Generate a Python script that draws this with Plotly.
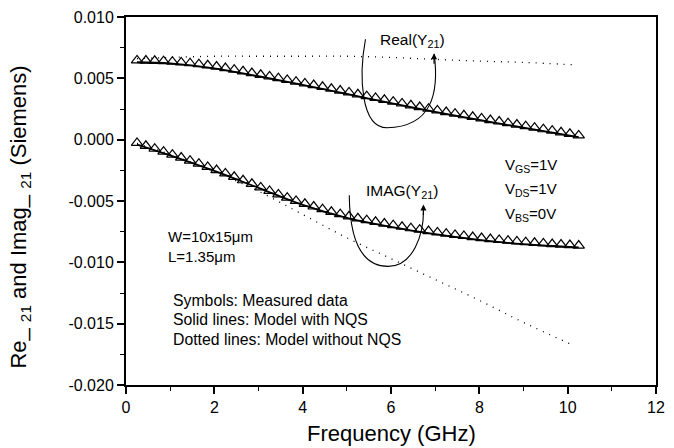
import plotly.graph_objects as go

# ---------------- data ----------------
freq_meas = [0.25, 0.45, 0.65, 0.85, 1.05, 1.25, 1.45, 1.65, 1.85, 2.05,
             2.25, 2.45, 2.65, 2.85, 3.05, 3.25, 3.45, 3.65, 3.85, 4.05,
             4.25, 4.45, 4.65, 4.85, 5.05, 5.25, 5.45, 5.65, 5.85, 6.05,
             6.25, 6.45, 6.65, 6.85, 7.05, 7.25, 7.45, 7.65, 7.85, 8.05,
             8.25, 8.45, 8.65, 8.85, 9.05, 9.25, 9.45, 9.65, 9.85, 10.05,
             10.25]

real_meas = [0.00646, 0.00645, 0.00643, 0.00640, 0.00636, 0.00630, 0.00623, 0.00615, 0.00606, 0.00596,
             0.00584, 0.00571, 0.00557, 0.00543, 0.00529, 0.00515, 0.00501, 0.00487, 0.00473, 0.00459,
             0.00445, 0.00431, 0.00415, 0.00400, 0.00385, 0.00370, 0.00355, 0.00340, 0.00325, 0.00310,
             0.00295, 0.00280, 0.00266, 0.00252, 0.00238, 0.00225, 0.00212, 0.00199, 0.00186, 0.00173,
             0.00160, 0.00148, 0.00135, 0.00123, 0.00110, 0.00098, 0.00085, 0.00073, 0.00060, 0.00048,
             0.00035]

imag_meas = [-0.00026, -0.00050, -0.00074, -0.00098, -0.00122, -0.00146, -0.00171, -0.00196, -0.00222, -0.00248,
             -0.00275, -0.00303, -0.00331, -0.00360, -0.00389, -0.00418, -0.00446, -0.00473, -0.00499, -0.00523,
             -0.00545, -0.00567, -0.00588, -0.00607, -0.00625, -0.00641, -0.00656, -0.00670, -0.00684, -0.00697,
             -0.00710, -0.00722, -0.00734, -0.00745, -0.00756, -0.00766, -0.00776, -0.00785, -0.00794, -0.00802,
             -0.00810, -0.00817, -0.00824, -0.00830, -0.00836, -0.00841, -0.00846, -0.00851, -0.00855, -0.00859,
             -0.00863]

freq_model = [0.25, 1, 2, 3, 4, 5, 6, 7, 8, 9, 10.25]
real_nqs = [0.00631, 0.00622, 0.00582, 0.00517, 0.00447, 0.00373, 0.00298, 0.00227, 0.00161, 0.00098, 0.00020]
imag_nqs = [-0.00040, -0.00128, -0.00255, -0.00393, -0.00532, -0.00637, -0.00711, -0.00770, -0.00817, -0.00852, -0.00878]

freq_qs = [0.25, 1, 2, 3, 4, 5, 6, 7, 8, 9, 10.15]
real_qs = [0.0066, 0.0067, 0.0068, 0.0068, 0.0068, 0.0068, 0.0067, 0.00655, 0.0064, 0.0063, 0.0061]
imag_qs = [-0.0003, -0.0012, -0.0026, -0.0042, -0.0061, -0.0080, -0.0097, -0.0114, -0.0131, -0.0149, -0.0168]

y_tickvals = [-0.020, -0.015, -0.010, -0.005, 0.000, 0.005, 0.010]
y_ticktext = ["-0.020", "-0.015", "-0.010", "-0.005", "0.000", "0.005", "0.010"]
x_tickvals = [0, 2, 4, 6, 8, 10, 12]
x_ticktext = ["0", "2", "4", "6", "8", "10", "12"]

FONT = "Liberation Sans, Arial, Helvetica, sans-serif"

fig = go.Figure()

# dotted: model without NQS
for yy in (real_qs, imag_qs):
    fig.add_trace(go.Scatter(x=freq_qs, y=yy, mode="lines", line_shape="spline",
                             line=dict(color="black", width=1.3, dash="1px,6px"),
                             showlegend=False, hoverinfo="skip"))
# solid: model with NQS
for yy in (real_nqs, imag_nqs):
    fig.add_trace(go.Scatter(x=freq_model, y=yy, mode="lines", line_shape="spline",
                             line=dict(color="black", width=1.8),
                             showlegend=False, hoverinfo="skip"))
# symbols: measured
for yy in (real_meas, imag_meas):
    fig.add_trace(go.Scatter(x=freq_meas, y=yy, mode="markers",
                             marker=dict(symbol="triangle-up-open", size=10,
                                         color="black", line=dict(width=1.2)),
                             showlegend=False))

# curly arrows (loops)
real_loop = ("M 5.422,0.008185 C 5.268,0.005186 5.313,0.000972 5.911,0.000972 "
             "C 6.934,0.001053 7.090,0.003809 6.979,0.006969")
imag_loop = ("M 5.055,-0.004538 C 5.066,-0.008185 5.313,-0.010332 5.936,-0.010332 "
             "C 6.489,-0.010332 6.756,-0.007780 6.734,-0.005510")
for p in (real_loop, imag_loop):
    fig.add_shape(type="path", path=p, xref="x", yref="y",
                  line=dict(color="black", width=1.1))

for (tx, ty) in ((6.975, 0.00705), (6.734, -0.00528)):
    fig.add_annotation(x=tx, y=ty, xref="x", yref="y", text="", showarrow=True,
                       ax=0, ay=12, arrowhead=2, arrowsize=1, arrowwidth=1.2,
                       arrowcolor="black")

def txt(x, y, s, size=15):
    fig.add_annotation(x=x, y=y, xref="x", yref="y", text=s, showarrow=False,
                       xanchor="left", yanchor="middle",
                       font=dict(family=FONT, size=size, color="black"))

txt(5.70, 0.0081, "Real(Y<sub>21</sub>)", 15.5)
txt(5.38, -0.0042, "IMAG(Y<sub>21</sub>)", 15.5)
txt(8.54, -0.0021, "V<sub>GS</sub>=1V")
txt(8.54, -0.0041, "V<sub>DS</sub>=1V")
txt(8.54, -0.0061, "V<sub>BS</sub>=0V")
txt(0.90, -0.0079, "W=10x15\u03bcm")
txt(0.90, -0.0095, "L=1.35\u03bcm")
txt(1.01, -0.0131, "Symbols: Measured data", 15.8)
txt(1.01, -0.0147, "Solid lines: Model with NQS", 15.8)
txt(1.01, -0.0163, "Dotted lines: Model without NQS", 15.8)

# axis titles
fig.add_annotation(x=-0.2004, y=0.457, xref="paper", yref="paper",
                   text="Re_ <sub>21</sub> and Imag_ <sub>21</sub> (Siemens)",
                   textangle=-90, showarrow=False, xanchor="center", yanchor="middle",
                   font=dict(family=FONT, size=22, color="black"))
fig.add_annotation(x=0.5, y=-0.132, xref="paper", yref="paper",
                   text="Frequency (GHz)", showarrow=False,
                   xanchor="center", yanchor="middle",
                   font=dict(family=FONT, size=22, color="black"))

fig.update_xaxes(range=[0, 12], tickmode="array", tickvals=x_tickvals, ticktext=x_ticktext,
                 ticks="outside", ticklen=7, tickwidth=1.5, tickcolor="black",
                 showline=True, linewidth=2, linecolor="black", mirror=True,
                 showgrid=False, zeroline=False,
                 minor=dict(tickmode="linear", tick0=0, dtick=1, ticks="outside",
                            ticklen=4, tickwidth=1.2, tickcolor="black", showgrid=False),
                 tickfont=dict(family=FONT, size=16, color="black"))
fig.update_yaxes(range=[-0.020, 0.010], tickmode="array", tickvals=y_tickvals, ticktext=y_ticktext,
                 ticks="outside", ticklen=7, tickwidth=1.5, tickcolor="black",
                 showline=True, linewidth=2, linecolor="black", mirror=True,
                 showgrid=False, zeroline=False,
                 minor=dict(tickmode="linear", tick0=0, dtick=0.0025, ticks="outside",
                            ticklen=4, tickwidth=1.2, tickcolor="black", showgrid=False),
                 tickfont=dict(family=FONT, size=16, color="black"))

fig.update_layout(width=674, height=448,
                  margin=dict(l=126, r=9, t=15, b=63, pad=0),
                  plot_bgcolor="white", paper_bgcolor="white",
                  showlegend=False)

fig.write_html("out.html")
